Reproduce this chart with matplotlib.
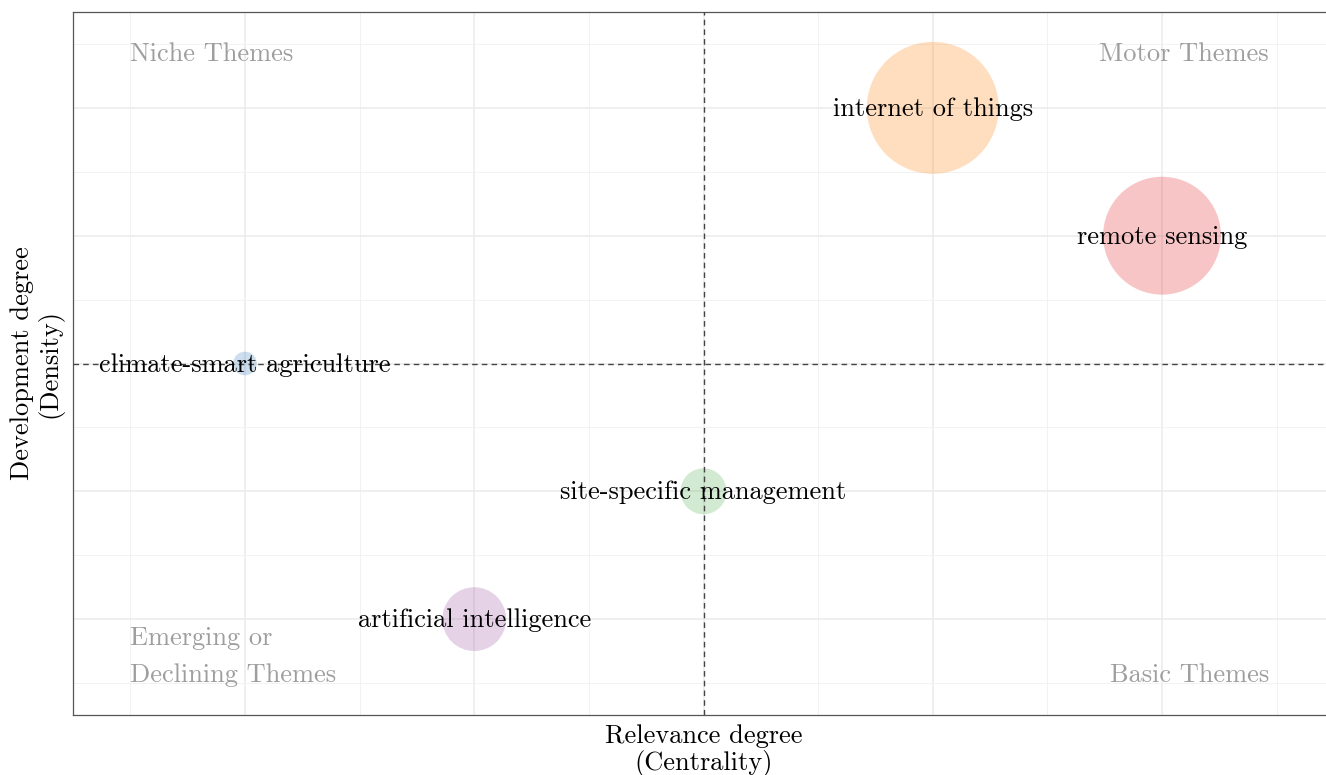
import numpy as np
import matplotlib.pyplot as plt
import matplotlib as mpl

mpl.use('Agg')

themes = ["climate-smart agriculture", "artificial intelligence", "site-specific management",
          "internet of things", "remote sensing"]
centrality = [1, 2, 3, 4, 5]
density = [3, 1, 2, 5, 4]
freq = [14, 102, 53, 436, 348]
colors = ["#377EB8", "#984EA3", "#4DAF4A", "#FF7F00", "#E41A1C"]

plt.rcParams['font.family'] = ['cmr10', 'DejaVu Serif']
plt.rcParams['axes.formatter.use_mathtext'] = True
FS = 19

fig = plt.figure(figsize=(13.26, 7.75), dpi=100)
# axes right edge runs slightly past the figure, like the original
ax = fig.add_axes([73 / 1326, 1 - 715 / 775, (1334 - 73) / 1326, (715 - 12) / 775])

ax.scatter(centrality, density, s=np.array(freq) * 20.7, c=colors, alpha=0.25,
           edgecolors='none', zorder=2)
for x, y, t in zip(centrality, density, themes):
    ax.text(x, y - 0.01, t, ha='center', va='center', fontsize=FS, color='black', zorder=4)

ax.axvline(np.mean(centrality), color='#444444', ls=(0, (4, 3)), lw=1, zorder=3)
ax.axhline(np.mean(density), color='#444444', ls=(0, (4, 3)), lw=1, zorder=3)

ax.set_xlim(0.25, 5.75)
ax.set_ylim(0.25, 5.75)
ax.set_xticks([1, 2, 3, 4, 5])
ax.set_yticks([1, 2, 3, 4, 5])
ax.set_xticks(np.arange(0.5, 6, 1), minor=True)
ax.set_yticks(np.arange(0.5, 6, 1), minor=True)
ax.grid(which='major', color='#EBEBEB', lw=1.1)
ax.grid(which='minor', color='#F2F2F2', lw=0.7)
ax.tick_params(which='both', length=0, labelbottom=False, labelleft=False)
ax.set_axisbelow(True)
for s in ax.spines.values():
    s.set_color('#555555')
    s.set_linewidth(0.9)

qc = '#9E9E9E'
ax.text(0.5, 5.42, "Niche Themes", ha='left', va='center', fontsize=FS, color=qc)
ax.text(5.467, 5.42, "Motor Themes", ha='right', va='center', fontsize=FS, color=qc)
ax.text(5.467, 0.56, "Basic Themes", ha='right', va='center', fontsize=FS, color=qc)
ax.text(0.5, 0.85, "Emerging or", ha='left', va='center', fontsize=FS, color=qc)
ax.text(0.5, 0.56, "Declining Themes", ha='left', va='center', fontsize=FS, color=qc)

ax.set_xlabel("Relevance degree\n(Centrality)", fontsize=FS, linespacing=1.1, labelpad=7)
ax.set_ylabel("Development degree\n(Density)", fontsize=FS, linespacing=1.1, labelpad=7)

fig.savefig("out.png", dpi=100)
